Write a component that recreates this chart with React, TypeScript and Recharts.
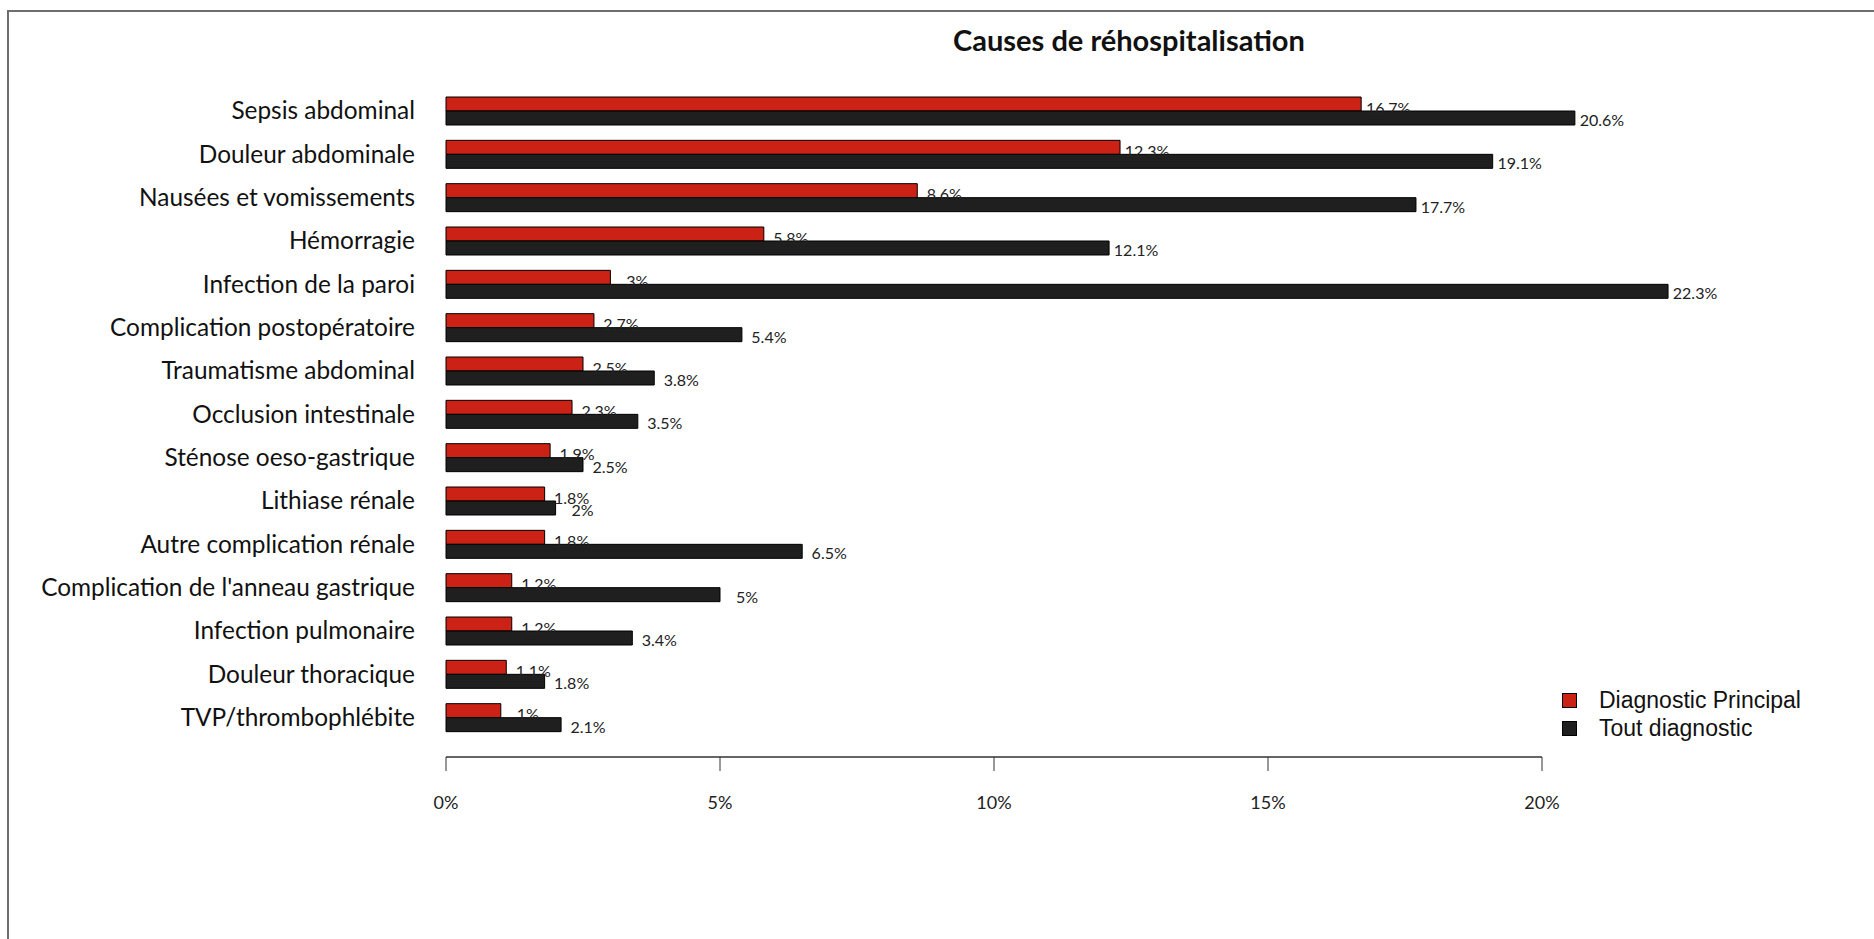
import React from 'react';
import { BarChart, Bar, XAxis, YAxis, Legend, LabelList, ReferenceLine } from 'recharts';

const CATEGORIES = [
  'Sepsis abdominal',
  'Douleur abdominale',
  'Nausées et vomissements',
  'Hémorragie',
  'Infection de la paroi',
  'Complication postopératoire',
  'Traumatisme abdominal',
  'Occlusion intestinale',
  'Sténose oeso-gastrique',
  'Lithiase rénale',
  'Autre complication rénale',
  "Complication de l'anneau gastrique",
  'Infection pulmonaire',
  'Douleur thoracique',
  'TVP/thrombophlébite',
];
const PRINCIPAL = [16.7, 12.3, 8.6, 5.8, 3, 2.7, 2.5, 2.3, 1.9, 1.8, 1.8, 1.2, 1.2, 1.1, 1];
const TOUT = [20.6, 19.1, 17.7, 12.1, 22.3, 5.4, 3.8, 3.5, 2.5, 2, 6.5, 5, 3.4, 1.8, 2.1];
const X_TICKS = [0, 5, 10, 15, 20];

const RED = '#cb2215';
const DARK = '#1f1f1f';
const FONT = 'Lato, "Open Sans", sans-serif';
const AXIS_GAP = 18;

const data = CATEGORIES.map((cause, i) => ({ cause, principal: PRINCIPAL[i], tout: TOUT[i] }));

// value label sits a bit to the right of the bar end, a little below centre
const makeLabel = (dy: number) => (props: any) => {
  const { x, y, width, height, value } = props;
  return (
    <text
      x={x + width + 27}
      y={y + height / 2 + dy}
      textAnchor="middle"
      dominantBaseline="central"
      fill="#222"
      fontSize={16}
      fontFamily={FONT}
    >
      {`${value}%`}
    </text>
  );
};

// R style axis line, dropped below the last category and stopping at the last tick
const AxisLine = (props: any) => {
  const { x1, x2, y1 } = props;
  return <line x1={x1} x2={x2} y1={y1 + AXIS_GAP} y2={y1 + AXIS_GAP} stroke="#333" strokeWidth={1.5} />;
};

const renderLegend = (props: any) => {
  const { payload } = props;
  return (
    <div style={{ fontFamily: '"Liberation Sans", Arial, sans-serif', fontSize: 23, color: '#111' }}>
      {payload.map((entry: any) => (
        <div key={entry.value} style={{ display: 'flex', alignItems: 'center', height: 28 }}>
          <span
            style={{
              display: 'inline-block',
              width: 13,
              height: 13,
              background: entry.color,
              border: '1px solid #000',
              marginRight: 22,
            }}
          />
          {entry.value}
        </div>
      ))}
    </div>
  );
};

export default function App() {
  return (
    <div style={{ position: 'relative', width: 1874, height: 939, background: '#fff', overflow: 'hidden' }}>
      <style>{'body{margin:0}'}</style>
      <div
        style={{
          position: 'absolute',
          left: 7,
          top: 10,
          right: -10,
          bottom: -10,
          borderTop: '2px solid #6e6e6e',
          borderLeft: '2px solid #6e6e6e',
        }}
      />
      <div
        style={{
          position: 'absolute',
          top: 22,
          left: 0,
          width: 2258,
          textAlign: 'center',
          fontFamily: FONT,
          fontWeight: 700,
          fontSize: 29,
          color: '#111',
        }}
      >
        Causes de réhospitalisation
      </div>
      <BarChart
        width={1874}
        height={939}
        data={data}
        layout="vertical"
        margin={{ top: 89, right: 58, bottom: 122, left: 0 }}
        barGap={0}
        barSize={14}
        style={{ position: 'absolute', left: 0, top: 0 }}
      >
        <XAxis
          type="number"
          domain={[0, 25]}
          ticks={X_TICKS}
          tickFormatter={(v) => `${v}%`}
          axisLine={false}
          tickSize={14}
          tickLine={{ stroke: '#333' }}
          tickMargin={25}
          height={60}
          tick={{ fill: '#222', fontSize: 18, fontFamily: FONT }}
        />
        <YAxis
          type="category"
          dataKey="cause"
          width={446}
          axisLine={false}
          tickLine={false}
          tickSize={0}
          tickMargin={31}
          interval={0}
          padding={{ top: 0, bottom: AXIS_GAP }}
          tick={{ fill: '#111', fontSize: 24.4, fontFamily: FONT }}
        />
        <ReferenceLine
          segment={[
            { x: 0, y: CATEGORIES[CATEGORIES.length - 1] },
            { x: X_TICKS[X_TICKS.length - 1], y: CATEGORIES[CATEGORIES.length - 1] },
          ]}
          position="end"
          ifOverflow="visible"
          shape={AxisLine}
        />
        <Legend
          layout="vertical"
          align="center"
          verticalAlign="middle"
          content={renderLegend}
          wrapperStyle={{ left: 1562, top: 686, width: 320 }}
        />
        <Bar dataKey="principal" name="Diagnostic Principal" fill={RED} stroke="#000" strokeWidth={1} isAnimationActive={false}>
          <LabelList dataKey="principal" content={makeLabel(3)} />
        </Bar>
        <Bar dataKey="tout" name="Tout diagnostic" fill={DARK} stroke="#000" strokeWidth={1} isAnimationActive={false}>
          <LabelList dataKey="tout" content={makeLabel(1.5)} />
        </Bar>
      </BarChart>
    </div>
  );
}
